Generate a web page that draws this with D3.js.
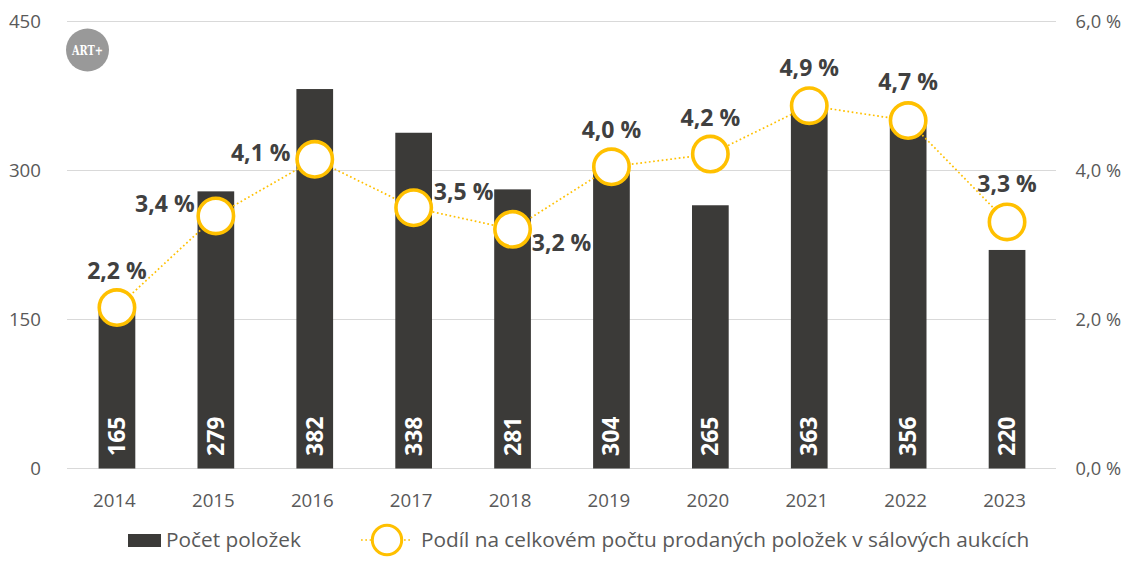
<!DOCTYPE html>
<html><head><meta charset="utf-8">
<script src="https://cdnjs.cloudflare.com/ajax/libs/d3/7.8.5/d3.min.js"></script>
<style>html,body{margin:0;padding:0;background:#fff}svg{display:block}text{font-family:"Open Sans",sans-serif}</style>
</head><body><svg id="c" width="1135" height="567"></svg>
<script>
const years = [2014,2015,2016,2017,2018,2019,2020,2021,2022,2023];
const counts = [165,279,382,338,281,304,265,363,356,220];
const shares = [2.16,3.39,4.15,3.5,3.21,4.05,4.22,4.87,4.67,3.31];
const shareLabels = ["2,2 %","3,4 %","4,1 %","3,5 %","3,2 %","4,0 %","4,2 %","4,9 %","4,7 %","3,3 %"];
const leftTicks = [0,150,300,450];
const rightTicks = [0,2,4,6];
const barName = "Počet položek";
const lineName = "Podíl na celkovém počtu prodaných položek v sálových aukcích";

const svg = d3.select("#c");
const x = d3.scaleBand().domain(years).range([67.5,1056.5]);
const yL = d3.scaleLinear().domain([0,450]).range([468.5,21.5]);
const yR = d3.scaleLinear().domain([0,6]).range([468.5,21.5]);
const cx = d => x(d)+x.bandwidth()/2;
const dark="#3b3a38", gold="#ffc000", grey="#595959", labelInk="#404040";

svg.append("g").selectAll("line").data(leftTicks).join("line")
  .attr("x1",67).attr("x2",1056).attr("y1",d=>yL(d)).attr("y2",d=>yL(d))
  .attr("stroke","#d9d9d9").attr("stroke-width",1);

svg.append("g").selectAll("text").data(leftTicks).join("text")
  .attr("x",41).attr("y",d=>yL(d)+6).attr("text-anchor","end")
  .attr("font-size",18.7).attr("fill",grey).text(d=>d);
svg.append("g").selectAll("text").data(rightTicks).join("text")
  .attr("x",1121).attr("y",d=>yR(d)+6).attr("text-anchor","end")
  .attr("font-size",18.3).attr("fill",grey).text(d=>d.toFixed(1).replace(".",",")+" %");
svg.append("g").selectAll("text").data(years).join("text")
  .attr("x",d=>cx(d)-2.5).attr("y",507).attr("text-anchor","middle")
  .attr("font-size",18.7).attr("fill",grey).text(d=>d);

const bw=36.7;
svg.append("g").selectAll("rect").data(years).join("rect")
  .attr("x",d=>cx(d)-bw/2).attr("width",bw)
  .attr("y",(d,i)=>yL(counts[i])).attr("height",(d,i)=>yL(0)-yL(counts[i]))
  .attr("fill",dark);
svg.append("g").selectAll("text").data(years).join("text")
  .attr("transform",d=>`translate(${cx(d)+8},456) rotate(-90)`)
  .attr("font-size",23).attr("font-weight",700).attr("fill","#fff")
  .text((d,i)=>counts[i]);

const line=d3.line().x((d,i)=>cx(years[i])).y(d=>yR(d));
svg.append("path").attr("d",line(shares)).attr("fill","none")
  .attr("stroke",gold).attr("stroke-width",1.7).attr("stroke-dasharray","1.7 2.6");
svg.append("g").selectAll("circle").data(years).join("circle")
  .attr("cx",d=>cx(d)).attr("cy",(d,i)=>yR(shares[i])).attr("r",17.7)
  .attr("fill","#fff").attr("stroke",gold).attr("stroke-width",3.6);

const offX=[0,-51,-54,50,49,0,0,0,0,0];
const offY=[-36,-11,-5,-15,15,-36,-35,-37,-38,-37];
svg.append("g").selectAll("text").data(years).join("text")
  .attr("x",(d,i)=>cx(d)+offX[i]).attr("y",(d,i)=>yR(shares[i])+offY[i]+7)
  .attr("text-anchor","middle").attr("font-size",23).attr("font-weight",700)
  .attr("fill",labelInk).text((d,i)=>shareLabels[i]);

// legend
svg.append("rect").attr("x",128).attr("y",534).attr("width",33).attr("height",13).attr("fill",dark);
svg.append("text").attr("x",166).attr("y",547).attr("font-size",20.8).attr("fill",grey).text(barName);
svg.append("line").attr("x1",361).attr("x2",411).attr("y1",540).attr("y2",540)
  .attr("stroke",gold).attr("stroke-width",1.7).attr("stroke-dasharray","1.7 2.6");
svg.append("circle").attr("cx",387).attr("cy",540).attr("r",14.7).attr("fill","#fff").attr("stroke",gold).attr("stroke-width",3);
svg.append("text").attr("x",421).attr("y",547).attr("font-size",20.8).attr("fill",grey).text(lineName);

// logo
svg.append("circle").attr("cx",87.5).attr("cy",50).attr("r",21.5).attr("fill","#999");
svg.append("text").attr("x",87.5).attr("y",55).attr("text-anchor","middle")
  .attr("font-size",13).attr("font-weight",700).attr("fill","#fff")
  .style("font-family","'DejaVu Serif',serif").attr("textLength",31).attr("lengthAdjust","spacingAndGlyphs").text("ART+");
</script></body></html>
